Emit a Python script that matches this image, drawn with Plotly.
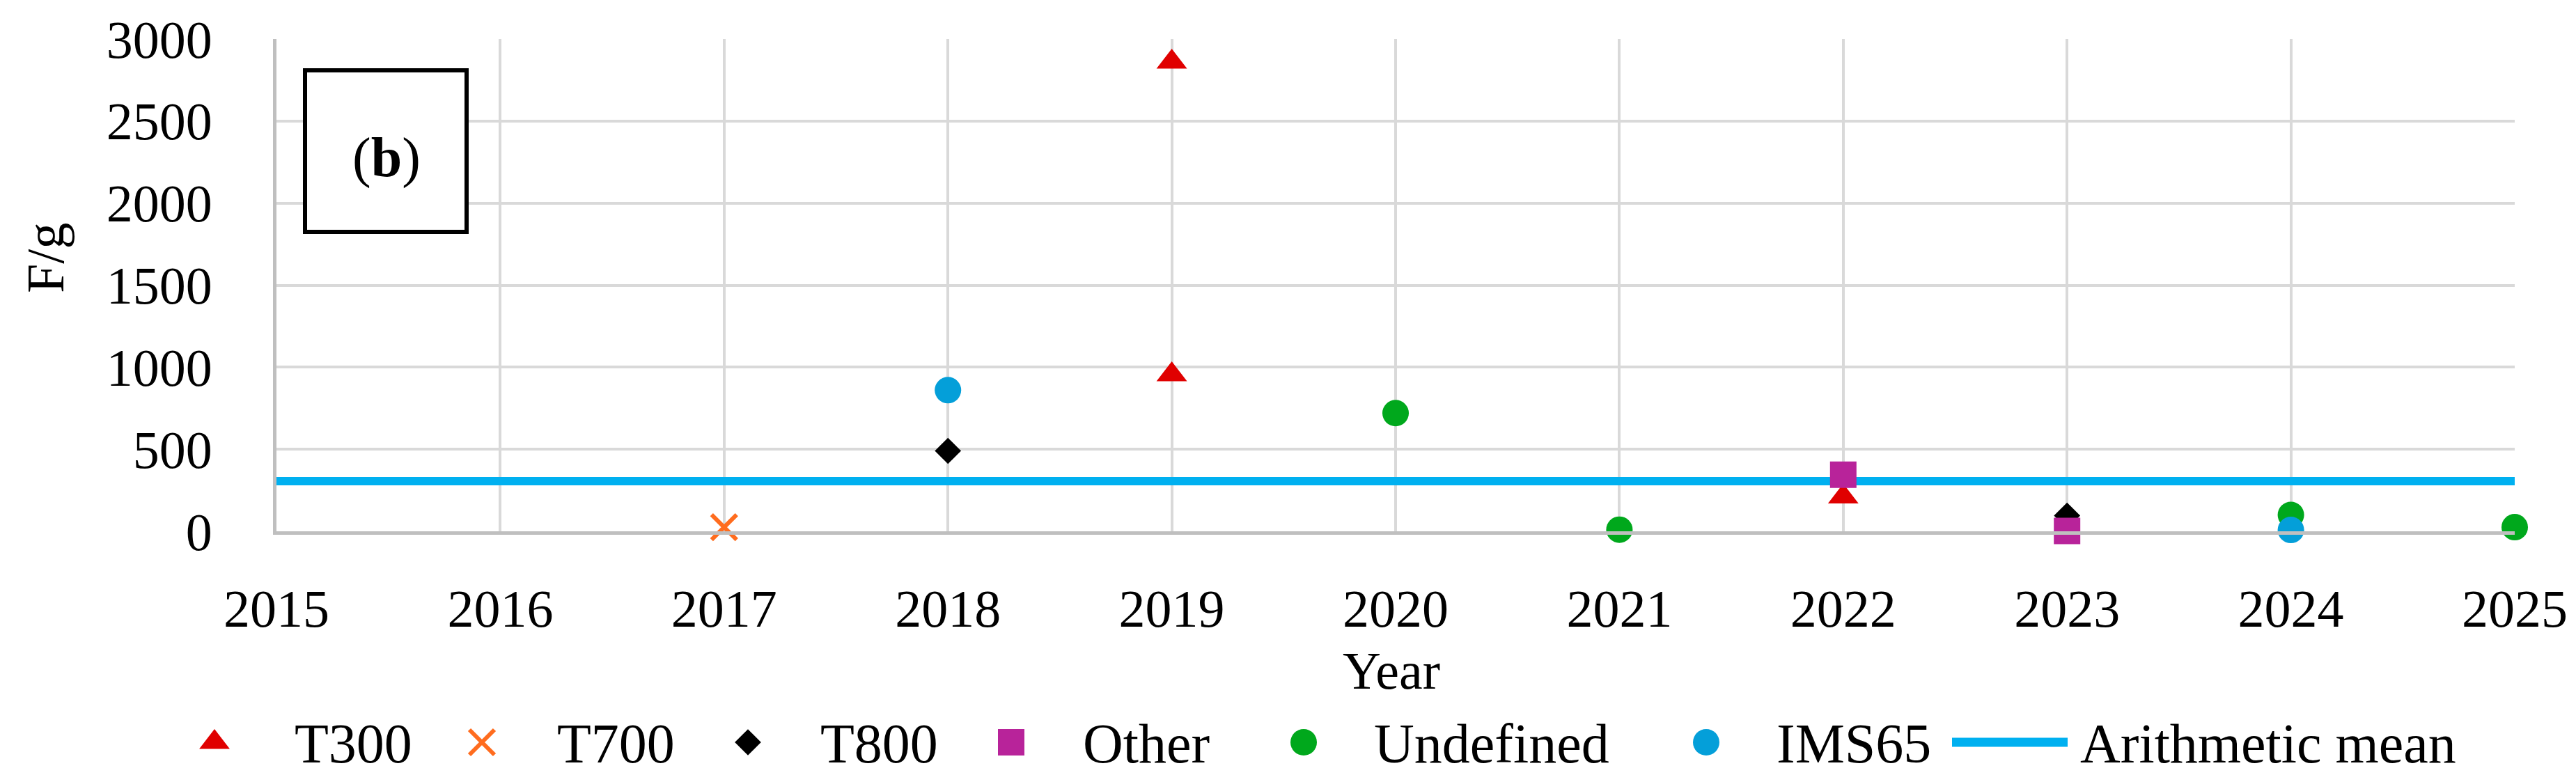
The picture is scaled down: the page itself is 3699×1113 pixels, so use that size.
import plotly.graph_objects as go

# ---------------- data ----------------
series_names = ["T300", "T700", "T800", "Other", "Undefined", "IMS65", "Arithmetic mean"]

t300_year = [2019, 2019, 2022]
t300_fg = [2860, 955, 210]

t700_year = [2017]
t700_fg = [25]

t800_year = [2018, 2023]
t800_fg = [490, 95]

other_year = [2022, 2023]
other_fg = [345, 2]

undefined_year = [2020, 2021, 2024, 2025]
undefined_fg = [720, 10, 100, 25]

ims65_year = [2018, 2024]
ims65_fg = [860, 8]

mean_years = [2015, 2025]
mean_fg = 305

x_ticks = [2015, 2016, 2017, 2018, 2019, 2020, 2021, 2022, 2023, 2024, 2025]
y_ticks = [0, 500, 1000, 1500, 2000, 2500, 3000]

# ---------------- layout constants (pixels) ----------------
W, H = 3699, 1113
PLOT_L, PLOT_R, PLOT_T, PLOT_B = 389, 3603, 48, 755
FONT = "Liberation Serif, Times New Roman, serif"
FS = 76
FS_LEG = 80

C_T300 = "#E00000"
C_T700 = "#FF6C1E"
C_T800 = "#000000"
C_OTHER = "#B8239A"
C_UNDEF = "#00A81C"
C_IMS = "#049FD9"
C_MEAN = "#00B0F0"
C_GRID = "#D9D9D9"
C_AXIS = "#BFBFBF"

markers = [
    dict(symbol="triangle-up", size=38, color=C_T300, line=dict(width=0)),
    dict(symbol="x-thin", size=36, color=C_T700, line=dict(width=6, color=C_T700)),
    dict(symbol="diamond", size=29, color=C_T800, line=dict(width=0)),
    dict(symbol="square", size=38, color=C_OTHER, line=dict(width=0)),
    dict(symbol="circle", size=38, color=C_UNDEF, line=dict(width=0)),
    dict(symbol="circle", size=38, color=C_IMS, line=dict(width=0)),
]
series_x = [t300_year, t700_year, t800_year, other_year, undefined_year, ims65_year]
series_y = [t300_fg, t700_fg, t800_fg, other_fg, undefined_fg, ims65_fg]

# custom legend geometry (page pixels)
LEG_Y = 1058
leg_key_x = [300, 684, 1066, 1444, 1864, 2442]
leg_text_x = [413, 790, 1168, 1545, 1963, 2541, 2977]
leg_line_x = [2795, 2961]

fig = go.Figure()

# arithmetic mean line (drawn first so markers sit on top)
fig.add_trace(go.Scatter(
    x=mean_years, y=[mean_fg] * len(mean_years), mode="lines",
    line=dict(color=C_MEAN, width=12), name=series_names[6],
    showlegend=False, hoverinfo="skip"))

for name, xs, ys, mk in zip(series_names[:6], series_x, series_y, markers):
    fig.add_trace(go.Scatter(
        x=xs, y=ys, mode="markers", marker=mk, name=name,
        showlegend=False, cliponaxis=False))

# legend keys on a pixel-coordinate helper axis
for kx, mk in zip(leg_key_x, markers):
    fig.add_trace(go.Scatter(
        x=[kx], y=[LEG_Y], mode="markers", marker=mk, xaxis="x2", yaxis="y2",
        showlegend=False, hoverinfo="skip", cliponaxis=False))
fig.add_trace(go.Scatter(
    x=leg_line_x, y=[LEG_Y, LEG_Y], mode="lines", line=dict(color=C_MEAN, width=13),
    xaxis="x2", yaxis="y2", showlegend=False, hoverinfo="skip", cliponaxis=False))

annotations = []
for tx, name in zip(leg_text_x, series_names):
    annotations.append(dict(
        x=tx, y=LEG_Y + 2, xref="x2", yref="y2", text=name, showarrow=False,
        xanchor="left", yanchor="middle", font=dict(family=FONT, size=FS_LEG, color="#000")))

# axis titles
annotations.append(dict(
    x=1990, y=955, xref="x2", yref="y2", text="Year", showarrow=False,
    xanchor="center", yanchor="middle", font=dict(family=FONT, size=FS, color="#000")))
annotations.append(dict(
    x=57, y=363, xref="x2", yref="y2", text="F/g", showarrow=False, textangle=-90,
    xanchor="center", yanchor="middle", font=dict(family=FONT, size=FS, color="#000")))
# panel label
annotations.append(dict(
    x=547, y=218, xref="x2", yref="y2", text="(<b>b</b>)", showarrow=False,
    xanchor="center", yanchor="middle", font=dict(family=FONT, size=80, color="#000")))

shapes = [dict(
    type="rect", xref="x2", yref="y2", x0=430, x1=662, y0=93, y1=325,
    line=dict(color="#000", width=6), fillcolor="white", layer="above")]

fig.update_layout(
    width=W, height=H,
    margin=dict(l=0, r=0, t=0, b=0, pad=0),
    paper_bgcolor="white", plot_bgcolor="rgba(0,0,0,0)",
    font=dict(family=FONT, size=FS, color="#000"),
    showlegend=False,
    xaxis=dict(
        domain=[PLOT_L / W, PLOT_R / W], range=[2015, 2025],
        tickmode="array", tickvals=x_ticks, ticktext=[str(v) for v in x_ticks],
        showgrid=True, gridcolor=C_GRID, gridwidth=4,
        showline=True, linecolor=C_AXIS, linewidth=5,
        zeroline=False, ticks="", ticklabelstandoff=41,
        tickfont=dict(family=FONT, size=FS, color="#000"), automargin=False),
    yaxis=dict(
        domain=[(H - PLOT_B) / H, (H - PLOT_T) / H], range=[0, 3000],
        tickmode="array", tickvals=y_ticks, ticktext=[str(v) for v in y_ticks],
        showgrid=True, gridcolor=C_GRID, gridwidth=4,
        showline=True, linecolor=C_AXIS, linewidth=5,
        zeroline=False, ticks="", ticklabelstandoff=72,
        tickfont=dict(family=FONT, size=FS, color="#000"), automargin=False),
    xaxis2=dict(domain=[0, 1], range=[0, W], visible=False, fixedrange=True,
                anchor="y2"),
    yaxis2=dict(domain=[0, 1], range=[H, 0], visible=False, fixedrange=True,
                anchor="x2"),
    annotations=annotations,
    shapes=shapes,
)

fig.write_html("out.html")
